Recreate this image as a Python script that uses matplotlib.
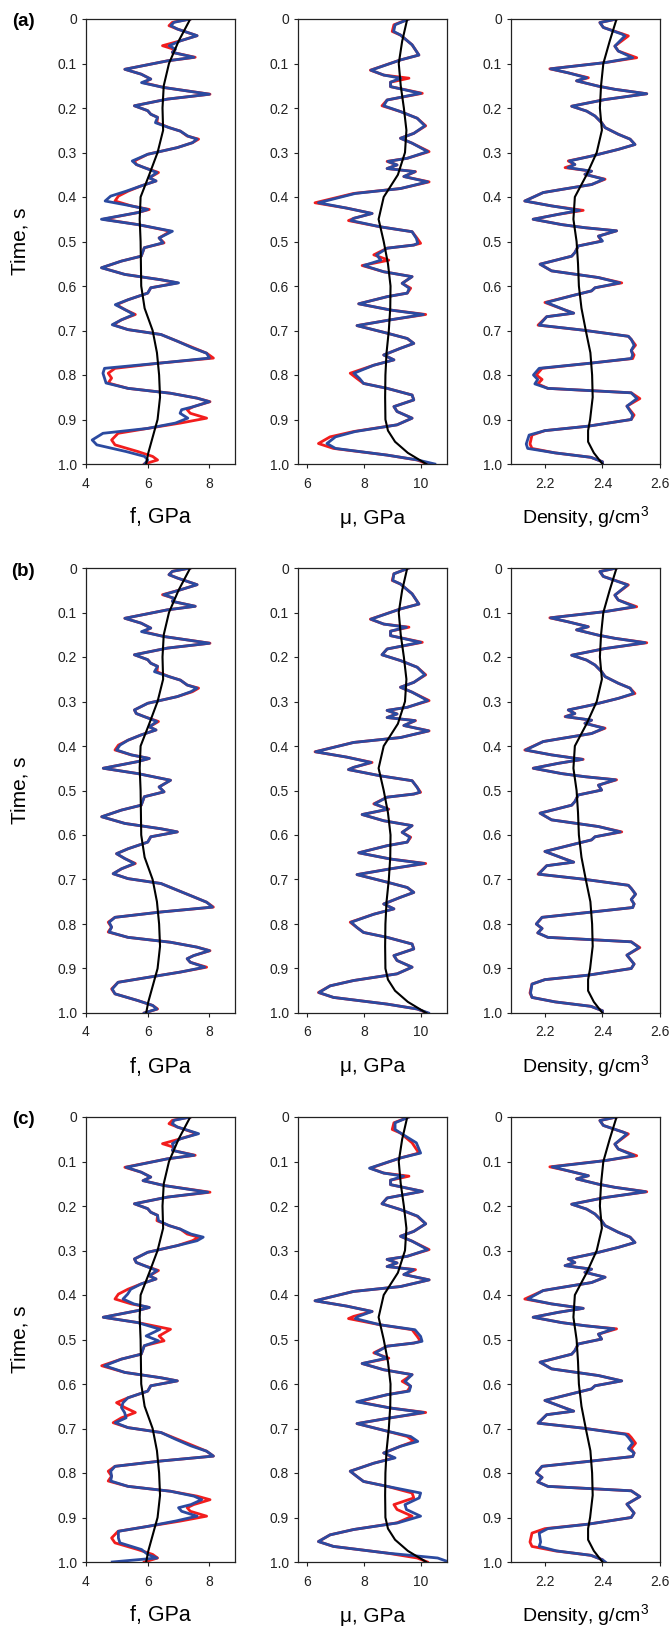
import numpy as np
import matplotlib
matplotlib.use("Agg")
import matplotlib.pyplot as plt
from matplotlib.ticker import FuncFormatter

plt.rcParams['font.family'] = ['Liberation Sans', 'DejaVu Sans']
plt.rcParams['mathtext.fontset'] = 'custom'
plt.rcParams['mathtext.rm'] = 'Liberation Sans'

# ---- f, GPa (true model, inverted results a/b/c) ----
t_f = [0, .0075, .015, .0225, .0375, .049, .06, .068, .075, .086,
       .094, .113, .124, .135, .143, .154, .169, .18, .195, .206,
       .214, .221, .233, .244, .252, .263, .27, .278, .289, .304,
       .319, .327, .334, .345, .357, .364, .375, .387, .398, .409,
       .42, .428, .435, .45, .462, .477, .492, .503, .514, .533,
       .544, .559, .574, .586, .593, .604, .616, .631, .642, .653,
       .664, .676, .687, .698, .709, .724, .739, .751, .762, .773,
       .785, .796, .807, .818, .83, .841, .852, .86, .871, .878,
       .886, .897, .908, .92, .931, .946, .957, .972, .983, .991, 1.0]
f_true = [7.38, 6.8, 6.69, 6.96, 7.6, 7.06, 6.48, 6.85, 6.8, 7.54,
          6.64, 5.26, 5.79, 6.1, 5.85, 6.53, 8.02, 6.64, 5.57, 6.0,
          6.1, 6.32, 6.3, 6.69, 7.06, 7.28, 7.65, 7.45, 6.96, 6.0,
          5.57, 5.63, 5.89, 6.35, 6.05, 6.27, 5.79, 5.36, 5.05, 4.94,
          5.47, 6.05, 5.68, 4.56, 5.68, 6.74, 6.37, 6.53, 5.89, 5.79,
          5.15, 4.51, 5.26, 6.43, 6.96, 6.1, 6.0, 5.36, 4.99, 5.26,
          5.6, 5.15, 4.88, 5.36, 6.43, 6.96, 7.49, 7.91, 8.13, 6.43,
          4.94, 4.72, 4.83, 4.72, 5.36, 6.74, 7.6, 8.02, 7.49, 7.28,
          7.38, 7.91, 7.06, 6.0, 5.04, 4.83, 4.94, 5.68, 6.16, 6.32, 5.89]
f_inv_a = [7.38, 6.85, 6.75, 6.96, 7.6, 7.06, 6.7, 6.9, 6.8, 7.5,
           6.64, 5.26, 5.79, 6.1, 5.8, 6.53, 8.0, 6.64, 5.57, 6.0,
           6.1, 6.32, 6.25, 6.69, 7.06, 7.3, 7.6, 7.45, 6.96, 6.0,
           5.5, 5.63, 5.89, 6.3, 6.05, 6.27, 5.79, 5.3, 4.8, 4.62,
           5.47, 6.0, 5.68, 4.5, 5.68, 6.8, 6.37, 6.5, 5.89, 5.79,
           5.15, 4.5, 5.26, 6.43, 7.0, 6.1, 6.0, 5.36, 4.95, 5.26,
           5.55, 5.15, 4.85, 5.36, 6.43, 6.96, 7.45, 7.91, 8.0, 6.43,
           4.6, 4.55, 4.6, 4.65, 5.36, 6.74, 7.6, 8.0, 7.49, 7.1,
           7.05, 7.3, 6.9, 6.0, 4.55, 4.2, 4.35, 5.3, 5.9, 6.0, 5.9]
f_inv_b = [7.38, 6.8, 6.69, 6.96, 7.6, 7.06, 6.52, 6.85, 6.8, 7.54,
           6.64, 5.26, 5.79, 6.1, 5.8, 6.53, 8.0, 6.64, 5.57, 6.0,
           6.1, 6.32, 6.22, 6.69, 7.06, 7.28, 7.6, 7.4, 6.96, 6.0,
           5.57, 5.63, 5.89, 6.3, 6.05, 6.27, 5.79, 5.36, 5.1, 4.99,
           5.47, 6.05, 5.68, 4.56, 5.68, 6.74, 6.37, 6.53, 5.89, 5.79,
           5.15, 4.51, 5.26, 6.43, 6.96, 6.1, 6.0, 5.36, 4.99, 5.26,
           5.57, 5.15, 4.88, 5.36, 6.43, 6.96, 7.49, 7.91, 8.1, 6.43,
           4.94, 4.75, 4.83, 4.75, 5.36, 6.74, 7.6, 8.0, 7.49, 7.28,
           7.38, 7.85, 7.06, 6.0, 5.04, 4.85, 4.94, 5.68, 6.16, 6.3, 5.89]
f_inv_c = [7.38, 6.85, 6.8, 6.96, 7.65, 7.06, 6.8, 6.85, 6.8, 7.5,
           6.64, 5.3, 5.79, 6.1, 5.85, 6.53, 7.95, 6.64, 5.57, 6.0,
           6.1, 6.32, 6.35, 6.69, 7.06, 7.4, 7.8, 7.6, 6.96, 6.0,
           5.57, 5.63, 5.89, 6.3, 6.05, 6.27, 5.79, 5.45, 5.35, 5.2,
           5.55, 6.05, 5.68, 4.56, 5.68, 6.4, 5.95, 6.35, 5.89, 5.79,
           5.15, 4.6, 5.26, 6.43, 6.96, 6.1, 6.0, 5.36, 5.2, 5.15,
           5.25, 5.3, 4.95, 5.36, 6.43, 6.9, 7.4, 7.91, 8.13, 6.43,
           4.94, 4.8, 4.83, 4.8, 5.36, 6.74, 7.5, 7.75, 7.4, 7.0,
           7.1, 7.6, 6.9, 6.0, 5.05, 5.05, 5.1, 5.8, 6.0, 6.3, 4.85]

# ---- mu, GPa ----
t_mu = [0, .013, .028, .036, .058, .081, .092, .115, .126, .133,
        .142, .152, .167, .182, .195, .208, .223, .24, .257, .268,
        .279, .298, .313, .32, .328, .336, .343, .354, .366, .381,
        .392, .413, .425, .437, .448, .453, .467, .478, .493, .504,
        .508, .515, .53, .542, .554, .568, .579, .594, .605, .616,
        .624, .64, .654, .664, .676, .689, .706, .718, .729, .74,
        .755, .766, .778, .796, .808, .819, .83, .845, .856, .871,
        .882, .897, .912, .927, .939, .954, .965, .98, .991, 1.0]
mu_true = [9.59, 9.06, 9.0, 9.29, 9.7, 9.94, 9.29, 8.23, 8.7, 9.59,
           8.94, 8.94, 10.06, 8.82, 8.64, 9.29, 9.88, 10.18, 9.76, 9.29,
           9.7, 10.3, 9.53, 8.82, 9.17, 8.82, 9.82, 9.41, 10.3, 9.29,
           7.64, 6.28, 7.4, 8.29, 7.64, 7.46, 8.58, 9.7, 9.88, 10.0,
           9.76, 8.82, 8.35, 8.88, 7.94, 8.7, 9.7, 9.35, 9.65, 9.53,
           8.82, 7.82, 8.94, 10.18, 8.94, 7.76, 8.82, 9.53, 9.76, 9.29,
           8.7, 9.06, 8.35, 7.52, 7.76, 7.99, 8.82, 9.7, 9.76, 9.06,
           9.17, 9.7, 9.17, 7.64, 6.81, 6.4, 6.93, 8.82, 9.88, 10.24]
mu_inv_a = [9.59, 9.1, 9.05, 9.29, 9.7, 9.94, 9.29, 8.25, 8.7, 9.3,
            8.94, 8.94, 10.0, 8.82, 8.7, 9.29, 9.88, 10.15, 9.76, 9.29,
            9.7, 10.25, 9.53, 8.85, 9.17, 8.82, 9.8, 9.41, 10.25, 9.29,
            7.7, 6.4, 7.4, 8.29, 7.64, 7.55, 8.58, 9.7, 9.85, 9.9,
            9.76, 8.82, 8.45, 8.6, 8.0, 8.7, 9.7, 9.35, 9.6, 9.53,
            8.82, 7.82, 8.94, 10.1, 8.94, 7.76, 8.82, 9.53, 9.76, 9.29,
            8.7, 9.06, 8.35, 7.65, 7.85, 7.99, 8.82, 9.7, 9.76, 9.06,
            9.17, 9.7, 9.17, 7.7, 7.0, 6.7, 7.0, 8.82, 9.9, 10.5]
mu_inv_b = [9.59, 9.06, 9.02, 9.29, 9.7, 9.94, 9.29, 8.25, 8.7, 9.5,
            8.94, 8.94, 10.0, 8.82, 8.64, 9.29, 9.88, 10.15, 9.76, 9.29,
            9.7, 10.25, 9.53, 8.82, 9.17, 8.82, 9.8, 9.41, 10.28, 9.29,
            7.64, 6.3, 7.4, 8.25, 7.64, 7.46, 8.58, 9.7, 9.88, 9.97,
            9.76, 8.82, 8.38, 8.85, 7.94, 8.7, 9.7, 9.35, 9.62, 9.53,
            8.82, 7.82, 8.94, 10.12, 8.94, 7.76, 8.82, 9.53, 9.76, 9.29,
            8.7, 9.06, 8.35, 7.55, 7.76, 7.99, 8.82, 9.7, 9.76, 9.06,
            9.17, 9.7, 9.17, 7.64, 6.81, 6.42, 6.93, 8.82, 9.88, 10.28]
mu_inv_c = [9.59, 9.1, 9.1, 9.29, 9.85, 10.0, 9.29, 8.2, 8.7, 9.4,
            8.94, 8.94, 10.06, 8.82, 8.64, 9.29, 9.9, 10.18, 9.76, 9.29,
            9.7, 10.25, 9.53, 8.82, 9.17, 8.82, 9.75, 9.41, 10.3, 9.29,
            7.64, 6.28, 7.4, 8.29, 7.8, 7.7, 8.58, 9.8, 10.0, 10.05,
            9.76, 8.82, 8.4, 8.8, 7.94, 8.7, 9.7, 9.45, 9.65, 9.6,
            8.82, 7.75, 8.94, 10.1, 8.94, 7.76, 8.82, 9.65, 9.9, 9.29,
            8.7, 9.1, 8.35, 7.52, 7.76, 7.99, 8.82, 10.0, 9.95, 9.45,
            9.5, 10.0, 9.2, 7.64, 6.81, 6.4, 6.93, 8.82, 10.6, 11.0]

# ---- density, g/cm3 ----
t_rho = [0, .008, .019, .034, .038, .061, .072, .087, .098, .112,
         .121, .132, .139, .151, .158, .168, .181, .196, .207, .218,
         .233, .244, .259, .27, .282, .293, .308, .319, .327, .334,
         .342, .349, .36, .372, .383, .39, .409, .42, .43, .439,
         .45, .462, .469, .476, .488, .499, .51, .525, .533, .551,
         .566, .581, .593, .604, .611, .622, .637,
         .654, .661, .669, .688, .699, .713, .72, .733, .745, .755,
         .763, .774, .785, .8, .81, .82, .83, .84, .853, .87,
         .89, .9, .915, .925, .935, .955, .965, .975, .985, .995, 1.0]
rho_true = [2.449, 2.391, 2.403, 2.472, 2.49, 2.443, 2.455, 2.519, 2.409, 2.217,
            2.281, 2.351, 2.31, 2.386, 2.443, 2.554, 2.409, 2.293, 2.345, 2.374,
            2.397, 2.409, 2.455, 2.496, 2.513, 2.455, 2.362, 2.281, 2.304, 2.27,
            2.362, 2.339, 2.409, 2.362, 2.258, 2.194, 2.13, 2.223, 2.333, 2.246,
            2.159, 2.258, 2.339, 2.449, 2.386, 2.397, 2.316, 2.304, 2.293, 2.183,
            2.223, 2.386, 2.467, 2.374, 2.362, 2.293, 2.2,
            2.27, 2.3, 2.206, 2.176, 2.33, 2.49, 2.5, 2.515, 2.5, 2.51,
            2.505, 2.35, 2.19, 2.17, 2.19, 2.175, 2.21, 2.5, 2.53, 2.485,
            2.51, 2.5, 2.35, 2.2, 2.155, 2.148, 2.155, 2.235, 2.36, 2.4, 2.4]
rho_inv_a = [2.449, 2.391, 2.403, 2.468, 2.478, 2.443, 2.455, 2.505, 2.409, 2.22,
             2.281, 2.345, 2.31, 2.386, 2.443, 2.554, 2.409, 2.293, 2.345, 2.374,
             2.397, 2.409, 2.455, 2.496, 2.513, 2.455, 2.362, 2.285, 2.304, 2.28,
             2.362, 2.339, 2.405, 2.362, 2.258, 2.194, 2.13, 2.223, 2.32, 2.246,
             2.159, 2.258, 2.339, 2.449, 2.386, 2.4, 2.316, 2.304, 2.293, 2.183,
             2.223, 2.386, 2.46, 2.374, 2.362, 2.293, 2.205,
             2.27, 2.3, 2.206, 2.18, 2.33, 2.49, 2.5, 2.51, 2.5, 2.505,
             2.5, 2.35, 2.18, 2.16, 2.175, 2.165, 2.21, 2.5, 2.52, 2.485,
             2.505, 2.5, 2.35, 2.2, 2.145, 2.135, 2.14, 2.235, 2.36, 2.4, 2.4]
rho_inv_b = [2.449, 2.391, 2.403, 2.47, 2.487, 2.443, 2.455, 2.512, 2.409, 2.22,
             2.281, 2.35, 2.31, 2.386, 2.443, 2.548, 2.409, 2.293, 2.345, 2.374,
             2.397, 2.409, 2.455, 2.496, 2.508, 2.455, 2.362, 2.281, 2.304, 2.272,
             2.362, 2.339, 2.405, 2.362, 2.258, 2.194, 2.133, 2.223, 2.33, 2.246,
             2.16, 2.258, 2.339, 2.445, 2.386, 2.397, 2.316, 2.304, 2.293, 2.183,
             2.223, 2.386, 2.462, 2.374, 2.362, 2.293, 2.2,
             2.27, 2.3, 2.206, 2.178, 2.33, 2.49, 2.5, 2.515, 2.5, 2.51,
             2.505, 2.35, 2.19, 2.17, 2.19, 2.175, 2.21, 2.5, 2.527, 2.485,
             2.51, 2.5, 2.35, 2.2, 2.155, 2.15, 2.155, 2.235, 2.36, 2.4, 2.4]
rho_inv_c = [2.449, 2.391, 2.403, 2.472, 2.485, 2.443, 2.455, 2.51, 2.409, 2.225,
             2.281, 2.351, 2.31, 2.386, 2.443, 2.55, 2.409, 2.293, 2.345, 2.374,
             2.397, 2.409, 2.455, 2.496, 2.513, 2.455, 2.362, 2.281, 2.304, 2.27,
             2.362, 2.339, 2.409, 2.362, 2.258, 2.194, 2.14, 2.223, 2.333, 2.246,
             2.159, 2.258, 2.339, 2.44, 2.386, 2.397, 2.316, 2.304, 2.293, 2.183,
             2.223, 2.386, 2.467, 2.374, 2.362, 2.293, 2.2,
             2.27, 2.3, 2.206, 2.176, 2.33, 2.48, 2.49, 2.505, 2.49, 2.51,
             2.505, 2.35, 2.19, 2.17, 2.19, 2.175, 2.21, 2.5, 2.53, 2.485,
             2.51, 2.5, 2.35, 2.21, 2.18, 2.185, 2.18, 2.24, 2.36, 2.4, 2.41]

# ---- smooth initial (background) models ----
t_bg = [0, .05, .1, .15, .2, .25, .3, .35, .4, .45, .5, .55, .6, .65, .7,
        .75, .8, .85, .9, .925, .95, .975, 1.0]
f_bg = [7.38, 7.0, 6.69, 6.52, 6.48, 6.5, 6.32, 6.05, 5.77, 5.74, 5.77,
        5.78, 5.79, 5.9, 6.16, 6.3, 6.37, 6.4, 6.32, 6.22, 6.12, 6.02, 5.95]
mu_bg = [9.53, 9.35, 9.23, 9.3, 9.41, 9.5, 9.45, 9.2, 8.7, 8.52, 8.7,
         8.85, 8.94, 8.93, 8.88, 8.8, 8.76, 8.75, 8.76, 8.85, 9.1, 9.55, 10.2]
rho_bg = [2.449, 2.425, 2.403, 2.395, 2.391, 2.398, 2.38, 2.345, 2.304, 2.299,
          2.31, 2.315, 2.318, 2.327, 2.342, 2.358, 2.364, 2.366, 2.357, 2.35,
          2.35, 2.37, 2.4]

row_labels = ['(a)', '(b)', '(c)']
xlabels = ['f, GPa', 'μ, GPa', 'Density, g/cm$^{3}$']
xlabel_sizes = [15.5, 15, 14]
xticks = [[4, 6, 8], [6, 8, 10], [2.2, 2.4, 2.6]]
xticklabels = [['4', '6', '8'], ['6', '8', '10'], ['2.2', '2.4', '2.6']]
xlims = [(4, 8.83), (5.68, 10.93), (2.082, 2.6)]
yticks = [0, .1, .2, .3, .4, .5, .6, .7, .8, .9, 1.0]

props = [
    (t_f, f_true, [f_inv_a, f_inv_b, f_inv_c], f_bg),
    (t_mu, mu_true, [mu_inv_a, mu_inv_b, mu_inv_c], mu_bg),
    (t_rho, rho_true, [rho_inv_a, rho_inv_b, rho_inv_c], rho_bg),
]

W, H = 671, 1630
fig = plt.figure(figsize=(W / 100, H / 100), dpi=100)

col_x = [86, 298, 511]
row_top = [19, 568, 1117]
aw, ah = 149, 445

red = '#f21d1d'
blue = '#2b4aa0'

def yfmt(v, pos):
    if abs(v) < 1e-9:
        return '0'
    return '%.1f' % v

for r in range(3):
    for c in range(3):
        x0, y0 = col_x[c], row_top[r]
        ax = fig.add_axes([x0 / W, 1 - (y0 + ah) / H, aw / W, ah / H])
        t, true, invs, bg = props[c]
        ax.plot(true, t, color=red, lw=2.0, solid_joinstyle='round')
        ax.plot(invs[r], t, color=blue, lw=2.0, solid_joinstyle='round')
        ax.plot(bg, t_bg, color='black', lw=1.5)
        ax.set_ylim(1.0, 0)
        ax.set_xlim(*xlims[c])
        ax.set_yticks(yticks)
        ax.yaxis.set_major_formatter(FuncFormatter(yfmt))
        ax.set_xticks(xticks[c])
        ax.set_xticklabels(xticklabels[c])
        ax.tick_params(direction='out', length=3, width=0.8, labelsize=10,
                       colors='#222222')
        ax.tick_params(axis='y', pad=3.5)
        ax.tick_params(axis='x', pad=6)
        for s in ax.spines.values():
            s.set_linewidth(0.9)
            s.set_color('#222222')
        fig.text((x0 + aw / 2) / W, 1 - (y0 + ah + 54) / H, xlabels[c],
                 ha='center', va='center', fontsize=xlabel_sizes[c])
    fig.text(20 / W, 1 - (row_top[r] + ah / 2) / H, 'Time, s', rotation=90,
             ha='center', va='center', fontsize=15)
    fig.text(23 / W, 1 - (row_top[r] + 3) / H, row_labels[r], ha='center',
             va='center', fontsize=13.5, fontweight='bold')

fig.savefig('out.png', dpi=100)
